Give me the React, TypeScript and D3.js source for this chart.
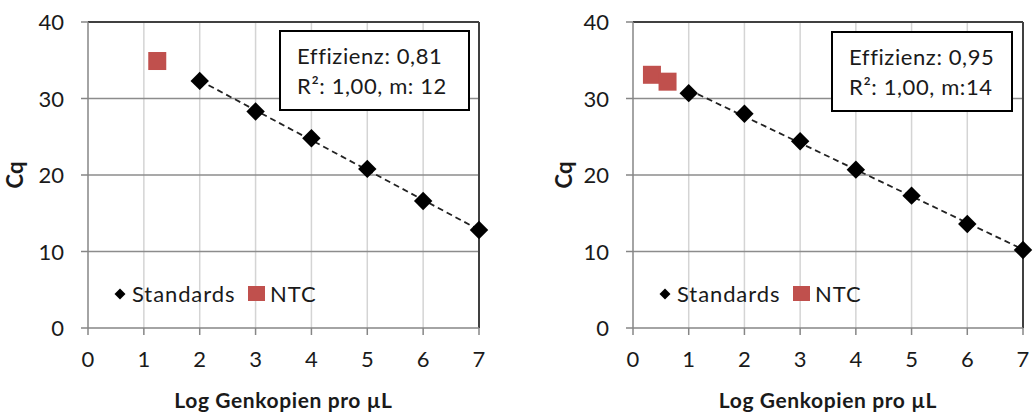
import React from "react";
import * as d3 from "d3";

const xTicks = [0, 1, 2, 3, 4, 5, 6, 7];
const yTicks = [0, 10, 20, 30, 40];

const leftStdX = [2, 3, 4, 5, 6, 7];
const leftStdCq = [32.3, 28.3, 24.8, 20.8, 16.6, 12.8];
const leftNtcX = [1.24];
const leftNtcCq = [34.9];
const leftInfo = ["Effizienz: 0,81", "R²: 1,00, m: 12"];

const rightStdX = [1, 2, 3, 4, 5, 6, 7];
const rightStdCq = [30.7, 28.0, 24.4, 20.7, 17.3, 13.6, 10.2];
const rightNtcX = [0.34, 0.62];
const rightNtcCq = [33.1, 32.2];
const rightInfo = ["Effizienz: 0,95", "R²: 1,00, m:14"];

const xTitle = "Log Genkopien pro µL";
const yTitle = "Cq";
const legendLabels = ["Standards", "NTC"];

const W = 1033;
const H = 413;
const FONT = "Lato, 'Open Sans', sans-serif";
const NTC_COLOR = "#C0504D";
const TXT = "#1a1a1a";

type PanelProps = {
  left: number;
  right: number;
  stdX: number[];
  stdCq: number[];
  ntcX: number[];
  ntcCq: number[];
  info: string[];
  box: { x: number; y: number; w: number; h: number };
  cqX: number;
};

function fit(xs: number[], ys: number[]) {
  const mx = d3.mean(xs)!;
  const my = d3.mean(ys)!;
  let num = 0;
  let den = 0;
  xs.forEach((x, i) => {
    num += (x - mx) * (ys[i] - my);
    den += (x - mx) * (x - mx);
  });
  const m = num / den;
  return { m, b: my - m * mx };
}

const diamondPath = (size: number) =>
  d3.symbol().type(d3.symbolSquare).size(size)() as string;

function Panel(p: PanelProps) {
  const top = 22;
  const bottom = 328;
  const x = d3.scaleLinear().domain([0, 7]).range([p.left, p.right]);
  const y = d3.scaleLinear().domain([0, 40]).range([bottom, top]);
  const f = fit(p.stdX, p.stdCq);
  const x0 = d3.min(p.stdX)!;
  const x1 = d3.max(p.stdX)!;
  const trend = d3
    .line<number>()
    .x((d) => x(d))
    .y((d) => y(f.m * d + f.b))([x0, x1]) as string;
  const sq = 18;
  const legY = 294;
  const legX = p.left + 32;
  return (
    <g>
      {xTicks.slice(1, -1).map((t) => (
        <line key={"vg" + t} x1={x(t)} x2={x(t)} y1={top} y2={bottom} stroke="#d4d4d4" strokeWidth={1.5} />
      ))}
      {yTicks.slice(1, -1).map((t) => (
        <line key={"hg" + t} x1={p.left} x2={p.right} y1={y(t)} y2={y(t)} stroke="#8c8c8c" strokeWidth={1.5} />
      ))}
      <line x1={p.left} x2={p.right} y1={top} y2={top} stroke="#404040" strokeWidth={2} />
      <line x1={p.right} x2={p.right} y1={top} y2={bottom} stroke="#404040" strokeWidth={2} />
      <line x1={p.left} x2={p.right} y1={bottom} y2={bottom} stroke="#868686" strokeWidth={1.5} />
      <line x1={p.left} x2={p.left} y1={top} y2={bottom} stroke="#868686" strokeWidth={1.5} />
      {yTicks.map((t) => (
        <g key={"yt" + t}>
          <line x1={p.left - 7} x2={p.left} y1={y(t)} y2={y(t)} stroke="#868686" strokeWidth={1.5} />
          <text x={p.left - 24} y={y(t) + 8} textAnchor="end" fontSize={22} fontFamily={FONT} fill={TXT}>
            {t}
          </text>
        </g>
      ))}
      {xTicks.map((t) => (
        <g key={"xt" + t}>
          <line x1={x(t)} x2={x(t)} y1={bottom} y2={bottom + 7} stroke="#868686" strokeWidth={1.5} />
          <text x={x(t)} y={367} textAnchor="middle" fontSize={22} fontFamily={FONT} fill={TXT}>
            {t}
          </text>
        </g>
      ))}
      <path d={trend} stroke="#222" strokeWidth={1.8} strokeDasharray="6,4" fill="none" />
      {p.ntcX.map((v, i) => (
        <rect key={"n" + i} x={x(v) - sq / 2} y={y(p.ntcCq[i]) - sq / 2} width={sq} height={sq} fill={NTC_COLOR} />
      ))}
      {p.stdX.map((v, i) => (
        <path
          key={"s" + i}
          d={diamondPath(170)}
          transform={`translate(${x(v)},${y(p.stdCq[i])}) rotate(45)`}
          fill="#000"
        />
      ))}
      <rect x={p.box.x} y={p.box.y} width={p.box.w} height={p.box.h} fill="#fff" stroke="#000" strokeWidth={2} />
      {p.info.map((s, i) => (
        <text
          key={"i" + i}
          x={p.box.x + 17}
          y={p.box.y + 33 + i * 30}
          fontSize={22}
          letterSpacing={0.6}
          fontFamily={FONT}
          fill={TXT}
        >
          {s}
        </text>
      ))}
      <path d={diamondPath(60)} transform={`translate(${legX},${legY}) rotate(45)`} fill="#000" />
      <text x={legX + 12} y={legY + 8} fontSize={22} letterSpacing={0.9} fontFamily={FONT} fill={TXT}>
        {legendLabels[0]}
      </text>
      <rect x={legX + 128} y={legY - 8} width={17} height={15} fill={NTC_COLOR} />
      <text x={legX + 150} y={legY + 8} fontSize={22} letterSpacing={0.9} fontFamily={FONT} fill={TXT}>
        {legendLabels[1]}
      </text>
      <text
        x={(p.left + p.right) / 2}
        y={408}
        textAnchor="middle"
        fontSize={21}
        letterSpacing={0.6}
        fontWeight="bold"
        fontFamily={FONT}
        fill={TXT}
      >
        {xTitle}
      </text>
      <text
        transform={`translate(${p.cqX},${(top + bottom) / 2}) rotate(-90)`}
        textAnchor="middle"
        dy={8}
        fontSize={22}
        fontWeight="bold"
        fontFamily={FONT}
        fill={TXT}
      >
        {yTitle}
      </text>
    </g>
  );
}

export default function App() {
  return (
    <svg width={W} height={H} style={{ position: "absolute", left: 0, top: 0, background: "#fff" }}>
      <rect width={W} height={H} fill="#fff" />
      <Panel
        left={88}
        right={479}
        stdX={leftStdX}
        stdCq={leftStdCq}
        ntcX={leftNtcX}
        ntcCq={leftNtcCq}
        info={leftInfo}
        box={{ x: 280, y: 31, w: 189, h: 79 }}
        cqX={15}
      />
      <Panel
        left={633}
        right={1023}
        stdX={rightStdX}
        stdCq={rightStdCq}
        ntcX={rightNtcX}
        ntcCq={rightNtcCq}
        info={rightInfo}
        box={{ x: 832, y: 32, w: 180, h: 79 }}
        cqX={564}
      />
    </svg>
  );
}
